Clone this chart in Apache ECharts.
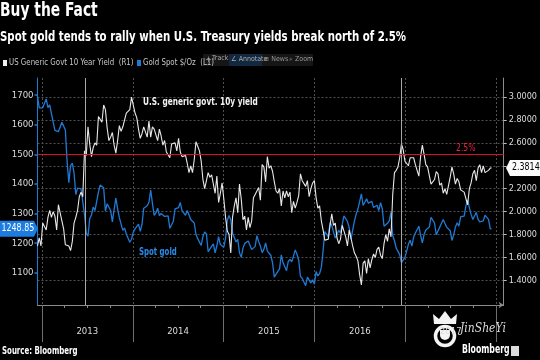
<!DOCTYPE html>
<html><head><meta charset="utf-8">
<script src="https://cdn.jsdelivr.net/npm/echarts@6/dist/echarts.min.js"></script>
<style>html,body{margin:0;padding:0;background:#000;}#c{width:540px;height:360px;}</style>
</head><body><div id="c"></div>
<script>
// ---- data (weekly closes) ----
const firstWeek = [2012, 11, 14];      // Friday 2012-12-14
const lastPointDate = [2017, 11, 13];
const gold2012 = [1696,1657,1656];
const gold2013 = [1657,1662,1687,1658, 1667,1667,1609,1581, 1576,1577,1592,1608,1596, 1582,1476,1404,1462, 1470,1436,1364,1386,1392, 1383,1387,1297,1234, 1223,1283,1295,1322, 1310,1313,1372,1396,1395, 1387,1308,1333,1338, 1310,1272,1314,1352, 1316,1286,1287,1243,1251, 1231,1235,1203,1213];
const gold2014 = [1237,1248,1253,1264,1240, 1263,1318,1323,1326, 1338,1379,1334,1294, 1302,1318,1293,1300, 1302,1290,1293,1292,1250, 1252,1274,1316,1316, 1320,1337,1310,1305, 1294,1310,1305,1280,1286, 1268,1230,1215,1218, 1192,1222,1238,1231,1171, 1169,1189,1197,1167, 1191,1222,1195,1195];
const gold2015 = [1186,1217,1277,1293,1278, 1234,1228,1204,1213, 1167,1152,1183,1199, 1201,1207,1203,1178, 1178,1189,1225,1205,1190, 1168,1179,1201,1173, 1168,1159,1132,1085,1095, 1094,1113,1160,1134, 1121,1107,1138,1145, 1137,1156,1177,1163,1142, 1088,1081,1076,1056, 1085,1075,1065,1076];
const gold2016 = [1061,1104,1089,1097,1118, 1173,1239,1230,1221, 1270,1259,1255,1217, 1222,1243,1235,1233,1292, 1289,1273,1252,1213, 1244,1274,1298,1315, 1340,1366,1327,1322,1350, 1335,1336,1341,1320, 1325,1328,1310,1337,1316, 1257,1254,1267,1275, 1304,1225,1208,1183, 1177,1161,1134,1133,1152];
const gold2017 = [1173,1196,1210,1190, 1220,1234,1239,1257, 1226,1201,1229,1244,1249, 1254,1287,1284,1268, 1228,1228,1254,1267, 1280,1266,1254,1257,1242, 1209,1228,1254,1269, 1257,1289,1285,1291, 1325,1346,1320,1297,1280, 1274,1304,1280,1272, 1269,1275,1294,1287, 1280,1248];
const goldLast = 1248.85;

const yld2012 = [1.70,1.77,1.70];
const yld2013 = [1.90,1.87,1.84,1.95, 2.01,1.95,2.00,1.96, 1.84,2.06,1.99,1.92,1.85, 1.71,1.72,1.70,1.66, 1.74,1.90,1.95,2.01,2.13, 2.17,2.13,2.53,2.49, 2.74,2.59,2.48,2.56, 2.60,2.58,2.83,2.82,2.78, 2.93,2.89,2.73,2.62, 2.65,2.69,2.58,2.51, 2.62,2.75,2.70,2.74,2.74, 2.86,2.87,2.89,3.00];
const yld2014 = [3.00,2.86,2.82,2.72,2.64, 2.68,2.74,2.73,2.65, 2.79,2.65,2.74,2.72, 2.72,2.62,2.72,2.66, 2.58,2.62,2.52,2.53,2.47, 2.59,2.60,2.60,2.53, 2.64,2.52,2.48,2.47, 2.49,2.42,2.34,2.40,2.34, 2.45,2.61,2.57,2.53, 2.44,2.28,2.20,2.27,2.34, 2.30,2.32,2.31,2.16, 2.31,2.08,2.16,2.25];
const yld2015 = [2.11,1.95,1.83,1.80,1.64, 1.95,2.05,2.12,1.99, 2.24,2.11,1.93,1.96, 1.84,1.95,1.86,1.92, 2.12,2.15,2.14,2.21,2.10, 2.41,2.39,2.26,2.48, 2.38,2.40,2.35,2.26,2.18, 2.16,2.20,2.05,2.18, 2.12,2.18,2.13,2.17, 1.99,2.09,2.03,2.08,2.14, 2.33,2.27,2.26,2.22, 2.27,2.13,2.20,2.25];
const yld2016 = [2.27,2.12,2.03,2.05,1.92, 1.84,1.75,1.74,1.76, 1.88,1.98,1.88,1.90, 1.77,1.72,1.76,1.88,1.83, 1.78,1.70,1.84,1.85, 1.70,1.64,1.61,1.57, 1.45,1.36,1.55,1.57,1.46, 1.59,1.51,1.58,1.63, 1.60,1.67,1.69,1.62,1.59, 1.72,1.80,1.74,1.85, 1.78,2.15,2.34,2.36, 2.39,2.47,2.59,2.54,2.44];
const yld2017 = [2.42,2.40,2.47,2.48, 2.47,2.41,2.42,2.31, 2.48,2.58,2.50,2.41,2.39, 2.38,2.24,2.24,2.28, 2.35,2.33,2.23,2.25, 2.16,2.20,2.15,2.14,2.30, 2.39,2.33,2.24,2.29, 2.26,2.19,2.19,2.17, 2.16,2.06,2.20,2.25,2.33, 2.36,2.27,2.38,2.41, 2.34,2.40,2.34,2.34, 2.36,2.38];
const yldLast = 2.3814;

const yearLabels = ['2013','2014','2015','2016','2017'];
const yearBounds = [2013,2014,2015,2016,2017,2018];
const goldTicks = [1100,1200,1300,1400,1500,1600,1700];
const yieldTicks = [1.4,1.6,1.8,2.0,2.2,2.4,2.6,2.8,3.0];
const threshold = 2.5;
const eventDates = [[2013,5,23],[2016,11,17]];

// ---- build ----
const DAY = 86400000;
const t0 = Date.UTC(...firstWeek);
const tLast = Date.UTC(...lastPointDate);
const goldVals = [].concat(gold2012, gold2013, gold2014, gold2015, gold2016, gold2017);
const yldVals = [].concat(yld2012, yld2013, yld2014, yld2015, yld2016, yld2017);
const goldData = goldVals.map((v, i) => [t0 + i * 7 * DAY, v]); goldData.push([tLast, goldLast]);
const yldData = yldVals.map((v, i) => [t0 + i * 7 * DAY, v]); yldData.push([tLast, yldLast]);

const xMin = t0, xMax = Date.UTC(2018, 0, 31);
const yearStarts = yearBounds.map(y => Date.UTC(y, 0, 1));
const yearMids = yearLabels.map(y => Date.UTC(+y, 6, 2));
const quarterStarts = [];
yearLabels.forEach(y => [3, 6, 9].forEach(m => quarterStarts.push(Date.UTC(+y, m, 1))));

const NARROW = '"DejaVu Sans Condensed","Liberation Sans Narrow",sans-serif';
const BLUE = '#1f7ad6';
const WHITE = '#e8e8e8';
const RED = '#d8102e';

const chart = echarts.init(document.getElementById('c'));
chart.setOption({
  backgroundColor: '#000',
  animation: false,
  grid: { left: 37.5, right: 33, top: 78, bottom: 55, containLabel: false },
  xAxis: [{
    type: 'value', min: xMin, max: xMax,
    axisLine: { show: true, lineStyle: { color: '#8c8c8c', width: 1 }, symbol: ['none', 'arrow'], symbolSize: [5, 5] },
    axisTick: { show: true, customValues: yearStarts, length: 37, lineStyle: { color: '#6e6e6e' } },
    axisLabel: { customValues: yearMids, formatter: v => String(new Date(v).getUTCFullYear()), color: '#dcdcdc', fontSize: 9.5, margin: 22, fontFamily: NARROW },
    splitLine: { show: true, lineStyle: { color: '#505050', type: [2, 2] } }
  }, {
    type: 'value', min: xMin, max: xMax, position: 'bottom',
    axisLine: { show: false },
    axisTick: { show: true, customValues: quarterStarts, length: 3, lineStyle: { color: '#8c8c8c' } },
    axisLabel: { show: false }, splitLine: { show: false }
  }],
  yAxis: [{
    type: 'value', position: 'left', min: 990.9, max: 1757.8,
    axisLine: { show: true, lineStyle: { color: BLUE, width: 1 } },
    axisTick: { show: true, customValues: goldTicks, length: 3, lineStyle: { color: BLUE, width: 1.5 } },
    axisLabel: { customValues: goldTicks, formatter: v => String(v), color: '#dcdcdc', fontSize: 9.5, margin: 4, fontFamily: NARROW },
    splitLine: { show: false }
  }, {
    type: 'value', position: 'right', min: 1.185, max: 3.166,
    axisLine: { show: true, lineStyle: { color: '#8c8c8c', width: 1 } },
    axisTick: { show: true, customValues: yieldTicks, length: 3, lineStyle: { color: '#bbbbbb' } },
    axisLabel: { customValues: yieldTicks, formatter: v => v.toFixed(4), color: '#dcdcdc', fontSize: 9, margin: 5, fontFamily: NARROW },
    splitLine: { show: true, lineStyle: { color: '#505050', type: [2, 2] } }
  }],
  series: [{
    name: 'Gold Spot $/Oz', type: 'line', xAxisIndex: 0, yAxisIndex: 0, data: goldData,
    showSymbol: false, lineStyle: { color: BLUE, width: 1.3 }, itemStyle: { color: BLUE },
    markLine: { silent: true, symbol: 'none', label: { show: false },
      lineStyle: { color: '#a8a8a8', type: 'solid', width: 1 },
      data: eventDates.map(d => ({ xAxis: Date.UTC(...d) })) }
  }, {
    name: 'US Generic Govt 10 Year Yield', type: 'line', xAxisIndex: 0, yAxisIndex: 1, data: yldData,
    showSymbol: false, lineStyle: { color: WHITE, width: 1.1 }, itemStyle: { color: WHITE },
    markLine: { silent: true, symbol: 'none', label: { show: false },
      lineStyle: { color: RED, type: 'solid', width: 1.2 },
      data: [{ yAxis: threshold }] }
  }]
});

const gy = chart.convertToPixel({ yAxisIndex: 0 }, goldLast);
const yy = chart.convertToPixel({ yAxisIndex: 1 }, yldLast);
const thy = chart.convertToPixel({ yAxisIndex: 1 }, threshold);
const txt = (x, y, s, style, sx, z) => ({ type: 'text', x: x, y: y, scaleX: sx || 1, z: z || 50,
  style: Object.assign({ text: s, fill: '#fff', font: 'bold 11px ' + NARROW }, style || {}) });

chart.setOption({
  graphic: [
    txt(0, 1, 'Buy the Fact', { font: 'bold 20px ' + NARROW }, 0.77),
    txt(0, 30, 'Spot gold tends to rally when U.S. Treasury yields break north of 2.5%', { font: 'bold 14px ' + NARROW }, 0.81),
    // legend
    { type: 'rect', shape: { x: 3, y: 60, width: 4, height: 6 }, style: { fill: '#f0f0f0' } },
    txt(9, 58, 'US Generic Govt 10 Year Yield  (R1)', { font: '8.5px ' + NARROW, fill: '#c8c8c8' }, 0.92),
    { type: 'rect', shape: { x: 137, y: 60, width: 4, height: 6 }, style: { fill: BLUE } },
    txt(143, 58, 'Gold Spot $/Oz  (L1)', { font: '8.5px ' + NARROW, fill: '#c8c8c8' }, 0.92),
    // toolbar
    { type: 'rect', shape: { x: 203, y: 54, width: 110, height: 12 }, style: { fill: '#161616' } },
    { type: 'rect', shape: { x: 229, y: 54, width: 33, height: 12 }, style: { fill: '#122840' } },
    txt(205, 55, '+', { font: '9px ' + NARROW, fill: '#999' }),
    txt(212, 55, 'Track', { font: '7px ' + NARROW, fill: '#aaa' }),
    txt(231, 56, '\u2220 Annotate', { font: '7px ' + NARROW, fill: '#aaa' }),
    txt(264, 56, '\u2261 News', { font: '7px ' + NARROW, fill: '#999' }),
    txt(289, 56, '\u2315 Zoom', { font: '7px ' + NARROW, fill: '#999' }),
    // annotations
    txt(143, 97, 'U.S. generic govt. 10y yield', { font: 'bold 10.5px ' + NARROW, fill: '#f2f2f2' }, 0.78),
    txt(139, 247, 'Spot gold', { font: 'bold 10.5px ' + NARROW, fill: '#2a8ae8' }, 0.74),
    txt(456, thy - 12, '2.5%', { font: '11px ' + NARROW, fill: '#e8223c' }, 0.78),
    // value tags
    { type: 'polygon', z: 100, shape: { points: [[0, gy - 8], [34, gy - 8], [38, gy], [34, gy + 8], [0, gy + 8]] }, style: { fill: '#1c7ce0' } },
    txt(1.5, gy - 6, goldLast.toFixed(2), { font: '11px ' + NARROW, fill: '#fff' }, 0.8, 110),
    { type: 'polygon', z: 100, shape: { points: [[506, yy], [510, yy - 8], [540, yy - 8], [540, yy + 8], [510, yy + 8]] }, style: { fill: '#fafafa' } },
    txt(512, yy - 6, yldLast.toFixed(4), { font: '11px ' + NARROW, fill: '#000' }, 0.8, 110),
    // footer
    txt(2, 346, 'Source: Bloomberg', { font: 'bold 10px ' + NARROW }, 0.78),
    txt(462, 344, 'Bloomberg', { font: 'bold 12px ' + NARROW }, 0.72),
    { type: 'rect', shape: { x: 511, y: 346, width: 8, height: 10 }, style: { fill: '#ddd' } },
    // watermark
    { type: 'polygon', shape: { points: [[434, 324], [433, 314], [439, 319], [445, 311], [451, 319], [457, 314], [456, 324]] }, style: { fill: '#f4f4f4' } },
    { type: 'circle', shape: { cx: 445, cy: 336, r: 9.5 }, style: { fill: 'none', stroke: '#f4f4f4', lineWidth: 3.5 } },
    { type: 'rect', shape: { x: 440, y: 330, width: 10, height: 10, r: [0, 0, 5, 5] }, style: { fill: '#f4f4f4' } },
    txt(460, 323, 'JinSheYi', { font: 'italic 12px "DejaVu Serif",serif', fill: '#dcdcdc' }, 0.9)
  ]
});
</script></body></html>
